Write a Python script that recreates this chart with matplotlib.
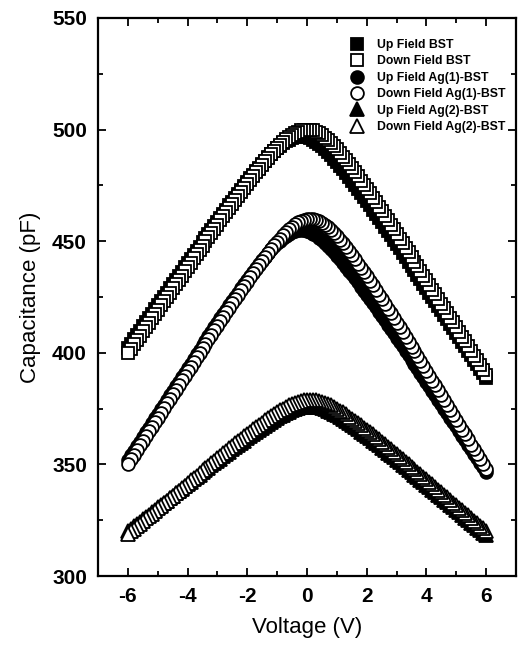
import numpy as np
import matplotlib
matplotlib.use("Agg")
import matplotlib.pyplot as plt

# Voltage sweep grid (V), -6 .. 6 in 0.1 V steps
voltage = np.round(np.arange(-60, 61) / 10.0, 1)

# Capacitance (pF), listed in ascending-voltage order
up_bst = [
    402.2, 404.1, 406.0, 408.0, 409.9, 411.8, 413.7, 415.6, 417.5, 419.4,
    421.3, 423.2, 425.1, 427.0, 428.9, 430.8, 432.6, 434.5, 436.4, 438.3,
    440.2, 442.0, 443.9, 445.8, 447.6, 449.5, 451.4, 453.2, 455.1, 456.9,
    458.7, 460.5, 462.4, 464.2, 466.0, 467.7, 469.5, 471.3, 473.0, 474.7,
    476.5, 478.1, 479.8, 481.4, 483.0, 484.6, 486.1, 487.6, 489.0, 490.3,
    491.6, 492.7, 493.8, 494.7, 495.5, 496.1, 496.6, 496.9, 497.0, 496.9,
    496.6, 496.1, 495.4, 494.6, 493.6, 492.5, 491.2, 489.9, 488.5, 487.0,
    485.5, 483.9, 482.2, 480.5, 478.8, 477.1, 475.3, 473.5, 471.7, 469.8,
    468.0, 466.1, 464.2, 462.3, 460.4, 458.5, 456.5, 454.6, 452.7, 450.7,
    448.8, 446.8, 444.9, 442.9, 440.9, 438.9, 437.0, 435.0, 433.0, 431.0,
    429.0, 427.0, 425.0, 423.0, 421.0, 419.0, 417.0, 415.0, 413.0, 411.0,
    409.0, 406.9, 404.9, 402.9, 400.9, 398.9, 396.8, 394.8, 392.8, 390.8,
    388.8]
down_bst = [
    399.9, 401.8, 403.8, 405.7, 407.6, 409.6, 411.5, 413.4, 415.4, 417.3,
    419.3, 421.2, 423.1, 425.0, 427.0, 428.9, 430.8, 432.7, 434.6, 436.6,
    438.5, 440.4, 442.3, 444.2, 446.1, 448.0, 449.9, 451.8, 453.7, 455.5,
    457.4, 459.3, 461.1, 463.0, 464.8, 466.7, 468.5, 470.3, 472.1, 473.9,
    475.6, 477.4, 479.1, 480.8, 482.5, 484.2, 485.8, 487.4, 488.9, 490.4,
    491.8, 493.2, 494.5, 495.7, 496.7, 497.7, 498.5, 499.1, 499.6, 499.9,
    500.0, 499.9, 499.6, 499.0, 498.3, 497.5, 496.4, 495.2, 493.9, 492.5,
    491.1, 489.5, 487.9, 486.2, 484.4, 482.7, 480.8, 479.0, 477.1, 475.2,
    473.3, 471.4, 469.4, 467.4, 465.4, 463.4, 461.4, 459.4, 457.4, 455.3,
    453.3, 451.2, 449.2, 447.1, 445.0, 443.0, 440.9, 438.8, 436.7, 434.6,
    432.5, 430.4, 428.3, 426.2, 424.1, 422.0, 419.9, 417.8, 415.7, 413.6,
    411.5, 409.3, 407.2, 405.1, 403.0, 400.9, 398.7, 396.6, 394.5, 392.3,
    390.2]
up_ag1 = [
    351.9, 354.0, 356.1, 358.1, 360.2, 362.3, 364.4, 366.4, 368.5, 370.6,
    372.6, 374.7, 376.8, 378.8, 380.9, 383.0, 385.0, 387.1, 389.1, 391.1,
    393.2, 395.2, 397.3, 399.3, 401.3, 403.3, 405.4, 407.4, 409.4, 411.4,
    413.4, 415.4, 417.3, 419.3, 421.2, 423.2, 425.1, 427.0, 428.9, 430.8,
    432.7, 434.5, 436.3, 438.1, 439.8, 441.5, 443.1, 444.7, 446.3, 447.7,
    449.1, 450.3, 451.5, 452.5, 453.4, 454.1, 454.6, 454.9, 455.0, 454.9,
    454.6, 454.1, 453.4, 452.6, 451.6, 450.5, 449.2, 447.9, 446.5, 445.0,
    443.5, 441.9, 440.2, 438.5, 436.8, 435.1, 433.3, 431.5, 429.7, 427.8,
    426.0, 424.1, 422.2, 420.3, 418.4, 416.5, 414.5, 412.6, 410.7, 408.7,
    406.8, 404.8, 402.9, 400.9, 398.9, 396.9, 395.0, 393.0, 391.0, 389.0,
    387.0, 385.0, 383.0, 381.0, 379.0, 377.0, 375.0, 373.0, 371.0, 369.0,
    367.0, 364.9, 362.9, 360.9, 358.9, 356.9, 354.8, 352.8, 350.8, 348.8,
    346.8]
down_ag1 = [
    350.2, 352.2, 354.3, 356.4, 358.5, 360.6, 362.7, 364.8, 366.9, 368.9,
    371.0, 373.1, 375.2, 377.3, 379.3, 381.4, 383.5, 385.5, 387.6, 389.7,
    391.7, 393.8, 395.8, 397.9, 399.9, 402.0, 404.0, 406.1, 408.1, 410.1,
    412.1, 414.2, 416.2, 418.2, 420.2, 422.1, 424.1, 426.1, 428.0, 430.0,
    431.9, 433.8, 435.7, 437.5, 439.4, 441.2, 443.0, 444.7, 446.4, 448.1,
    449.7, 451.2, 452.7, 454.1, 455.3, 456.5, 457.5, 458.4, 459.1, 459.6,
    459.9, 460.0, 459.9, 459.6, 459.0, 458.3, 457.3, 456.3, 455.0, 453.7,
    452.2, 450.7, 449.1, 447.4, 445.6, 443.8, 441.9, 440.0, 438.1, 436.2,
    434.2, 432.2, 430.2, 428.1, 426.1, 424.0, 421.9, 419.8, 417.7, 415.6,
    413.5, 411.4, 409.2, 407.1, 404.9, 402.8, 400.6, 398.4, 396.3, 394.1,
    391.9, 389.7, 387.5, 385.4, 383.2, 381.0, 378.8, 376.6, 374.4, 372.2,
    370.0, 367.8, 365.6, 363.4, 361.2, 358.9, 356.7, 354.5, 352.3, 350.1,
    347.9]
up_ag2 = [
    320.0, 321.1, 322.2, 323.2, 324.3, 325.4, 326.4, 327.5, 328.6, 329.6,
    330.7, 331.7, 332.8, 333.8, 334.9, 336.0, 337.0, 338.1, 339.1, 340.2,
    341.2, 342.3, 343.3, 344.4, 345.4, 346.4, 347.5, 348.5, 349.6, 350.6,
    351.6, 352.6, 353.7, 354.7, 355.7, 356.7, 357.7, 358.7, 359.7, 360.7,
    361.7, 362.7, 363.6, 364.6, 365.5, 366.4, 367.3, 368.2, 369.1, 369.9,
    370.7, 371.5, 372.3, 373.0, 373.6, 374.2, 374.7, 375.2, 375.5, 375.8,
    375.9, 376.0, 375.9, 375.8, 375.5, 375.1, 374.6, 374.1, 373.4, 372.7,
    372.0, 371.2, 370.4, 369.5, 368.6, 367.6, 366.7, 365.7, 364.7, 363.7,
    362.7, 361.7, 360.6, 359.6, 358.5, 357.4, 356.4, 355.3, 354.2, 353.1,
    352.0, 350.9, 349.8, 348.7, 347.6, 346.5, 345.4, 344.3, 343.1, 342.0,
    340.9, 339.8, 338.6, 337.5, 336.4, 335.3, 334.1, 333.0, 331.9, 330.7,
    329.6, 328.5, 327.3, 326.2, 325.0, 323.9, 322.8, 321.6, 320.5, 319.3,
    318.2]
down_ag2 = [
    318.9, 320.0, 321.2, 322.3, 323.5, 324.6, 325.8, 326.9, 328.0, 329.2,
    330.3, 331.5, 332.6, 333.7, 334.9, 336.0, 337.1, 338.3, 339.4, 340.5,
    341.6, 342.8, 343.9, 345.0, 346.1, 347.3, 348.4, 349.5, 350.6, 351.7,
    352.8, 353.9, 355.0, 356.1, 357.2, 358.3, 359.4, 360.4, 361.5, 362.6,
    363.6, 364.7, 365.7, 366.7, 367.7, 368.7, 369.7, 370.6, 371.6, 372.5,
    373.4, 374.2, 375.0, 375.7, 376.4, 377.1, 377.6, 378.1, 378.5, 378.8,
    378.9, 379.0, 378.9, 378.8, 378.5, 378.1, 377.6, 377.0, 376.4, 375.7,
    374.9, 374.1, 373.3, 372.4, 371.4, 370.5, 369.5, 368.5, 367.5, 366.5,
    365.5, 364.4, 363.4, 362.3, 361.2, 360.1, 359.0, 357.9, 356.8, 355.7,
    354.6, 353.5, 352.4, 351.2, 350.1, 349.0, 347.8, 346.7, 345.6, 344.4,
    343.3, 342.1, 341.0, 339.9, 338.7, 337.6, 336.4, 335.3, 334.1, 332.9,
    331.8, 330.6, 329.5, 328.3, 327.2, 326.0, 324.8, 323.7, 322.5, 321.4,
    320.2]

labels = ["Up Field BST", "Down Field BST", "Up Field Ag(1)-BST",
          "Down Field Ag(1)-BST", "Up Field Ag(2)-BST", "Down Field Ag(2)-BST"]
series = [up_bst, down_bst, up_ag1, down_ag1, up_ag2, down_ag2]
markers = ["s", "s", "o", "o", "^", "^"]
filled = [True, False, True, False, True, False]
sweep_down = [False, True, False, True, False, True]
msizes = [8.6, 8.6, 9.2, 9.2, 9.6, 9.6]

plt.rcParams["font.family"] = ["Liberation Sans", "DejaVu Sans"]
plt.rcParams["axes.unicode_minus"] = False

fig = plt.figure(figsize=(5.18, 6.45), dpi=100)
ax = fig.add_axes([98 / 518, 1 - 576 / 645, (516 - 98) / 518, (576 - 18) / 645])

for c, lab, m, f, dn, ms in zip(series, labels, markers, filled, sweep_down, msizes):
    v = np.asarray(voltage)
    cc = np.asarray(c)
    if dn:
        v = v[::-1]
        cc = cc[::-1]
    ax.plot(v, cc, linestyle="none", marker=m, markersize=ms,
            markerfacecolor="black" if f else "white",
            markeredgecolor="black", markeredgewidth=1.3, label=lab)

ax.set_xlim(-7, 7)
ax.set_ylim(300, 550)
ax.set_xticks([-6, -4, -2, 0, 2, 4, 6])
ax.set_xticks(np.arange(-7, 8, 1), minor=True)
ax.set_yticks([300, 350, 400, 450, 500, 550])
ax.set_yticks(np.arange(300, 551, 25), minor=True)
ax.tick_params(which="both", direction="in", top=True, right=True, width=1.3)
ax.tick_params(which="major", length=6, labelsize=15, pad=8)
ax.tick_params(which="minor", length=3.5)
for lbl in ax.get_xticklabels() + ax.get_yticklabels():
    lbl.set_fontweight("bold")
for sp in ax.spines.values():
    sp.set_linewidth(1.6)

ax.set_xlabel("Voltage (V)", fontsize=16, labelpad=8)
ax.set_ylabel("Capacitance (pF)", fontsize=16, labelpad=8)

leg = ax.legend(loc="upper left", bbox_to_anchor=(351 / 518, 1 - 39 / 645),
                bbox_transform=fig.transFigure, frameon=False, numpoints=1,
                handlelength=1.0, handletextpad=1.1, labelspacing=0.36,
                borderpad=0, borderaxespad=0,
                prop={"size": 8.8, "weight": "bold"})

fig.savefig("out.png", dpi=100)
